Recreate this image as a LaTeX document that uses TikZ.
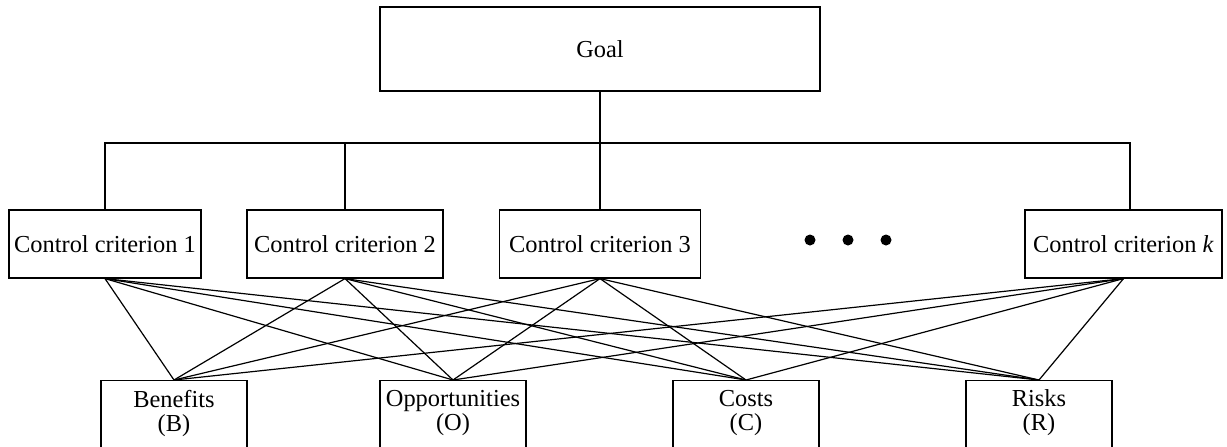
\documentclass[tikz,border=0pt]{standalone}
\usepackage{fontspec}
\setmainfont{Liberation Serif}
\begin{document}
\begin{tikzpicture}[x=0.5pt,y=-0.5pt,
  every node/.style={font=\fontsize{12.2pt}{12pt}\selectfont},
  box/.style={draw, line width=0.6pt, rectangle, inner sep=0pt},
  critbox/.style={box, minimum height=34pt},
  outbox/.style={box, anchor=north, minimum width=73pt, minimum height=50pt},
  outtext/.style={align=center, inner sep=0pt},
  link/.style={line width=0.6pt},
  dotmark/.style={circle, fill=black, inner sep=0pt, minimum size=5.5pt}]
\useasboundingbox (0,0) rectangle (1227,446);
\clip (0,0) rectangle (1227,446);

% goal
\node[box, minimum width=220pt, minimum height=42pt] (goal) at (600,49) {Goal};

% control criteria
\node[critbox, minimum width=96pt]    (c1) at (105,244)    {Control criterion 1};
\node[critbox, minimum width=98pt]    (c2) at (345,244)    {Control criterion 2};
\node[critbox, minimum width=100.5pt] (c3) at (600,244)    {Control criterion 3};
\node[critbox, minimum width=98.5pt]  (ck) at (1123.5,244) {Control criterion \textit{k}};

% ellipsis between criteria
\node[dotmark] (d1) at (810,240) {};
\node[dotmark] (d2) at (848,240) {};
\node[dotmark] (d3) at (886,240) {};

% BOCR merits
\node[outbox] (ben) at (174,380) {};
\node[outbox] (opp) at (453,380) {};
\node[outbox] (cos) at (746,380) {};
\node[outbox] (ris) at (1039,380) {};
\node[outtext] (benT) at (174,413) {Benefits\\(B)};
\node[outtext] (oppT) at (453,413) {Opportunities\\(O)};
\node[outtext] (cosT) at (746,413) {Costs\\(C)};
\node[outtext] (risT) at (1039,413) {Risks\\(R)};

% hierarchy bus
\coordinate (bus) at (600,143);
\draw[link] (goal.south) -- (bus);
\draw[link] (c1.north) |- ([xshift=3.25pt]ck.north |- bus) -- ([xshift=3.25pt]ck.north);
\draw[link] (c2.north) -- (c2.north |- bus);
\draw[link] (c3.north) -- (c3.north |- bus);

% every criterion links to every merit
\foreach \a in {c1,c2,c3,ck}
  \foreach \b in {ben,opp,cos,ris}
    \draw[link] (\a.south) -- (\b.north);
\end{tikzpicture}
\end{document}
